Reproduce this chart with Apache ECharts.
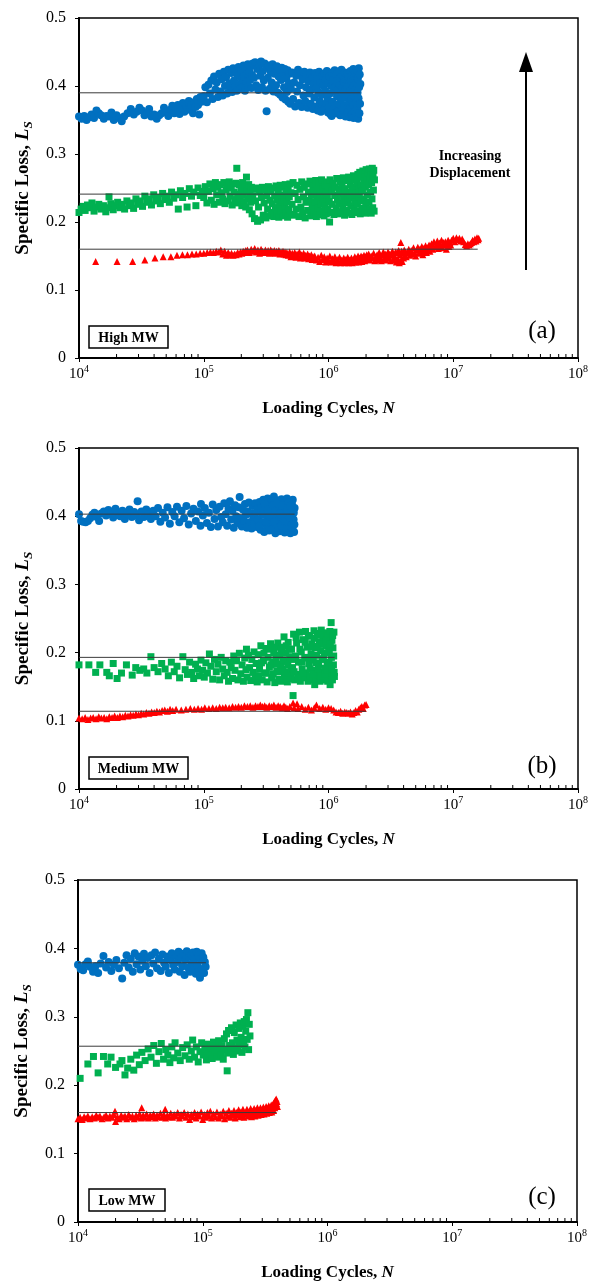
<!DOCTYPE html>
<html><head><meta charset="utf-8">
<script src="https://cdn.jsdelivr.net/npm/echarts@6/dist/echarts.min.js"></script>
<style>html,body{margin:0;padding:0;background:#fff}#c{width:592px;height:1282px}</style>
</head><body><div id="c"></div>
<script>
// ---------- data (N = loading cycles, L = specific loss) ----------
const aBlue = [
[10e3,.355],[10.5e3,.352],[11e3,.356],[11.5e3,.350],[12e3,.354],[12.6e3,.358],[13.2e3,.353],[13.8e3,.364],[14.4e3,.360],[15e3,.357],[15.8e3,.352],[16.6e3,.356],[17.4e3,.355],[18.2e3,.361],[19e3,.350],[20e3,.357],[21e3,.353],[22e3,.348],[23e3,.355],[24.5e3,.360],[26e3,.366],[27.5e3,.358],[29e3,.362],[30.5e3,.368],[32e3,.364],[33.5e3,.357],[35e3,.360],[36.5e3,.366],[38e3,.355],[40e3,.358],[42e3,.352],[44e3,.357],[46e3,.360],[48e3,.368],[50e3,.362],[52e3,.356],[54e3,.365],[56e3,.371],[58e3,.360],[60e3,.366],[62e3,.372],[64e3,.359],[66e3,.369],[68e3,.375],[70e3,.362],[72e3,.371],[74e3,.365],[76e3,.378],[78e3,.367],[80e3,.372],[82e3,.360],[84e3,.376],[86e3,.369],[88e3,.381],[90e3,.372],[92e3,.358],[94e3,.384],[96e3,.377],
[100e3,.385],[103e3,.398],[106e3,.376],[109e3,.402],[112e3,.389],[115e3,.408],[118e3,.381],[121e3,.414],[124e3,.395],[127e3,.405],[130e3,.384],[133e3,.418],[136e3,.392],[139e3,.410],[142e3,.386],[145e3,.421],[148e3,.400],[151e3,.413],[154e3,.389],[157e3,.424],[160e3,.404],[163e3,.395],[166e3,.419],[169e3,.391],[172e3,.426],[175e3,.408],[178e3,.399],[181e3,.421],[184e3,.393],[187e3,.415],[190e3,.428],[193e3,.402],[196e3,.396],[199e3,.423],[202e3,.410],[205e3,.398],[208e3,.430],[211e3,.414],[214e3,.393],[217e3,.425],[220e3,.405],[223e3,.418],[226e3,.432],[229e3,.399],[232e3,.421],[235e3,.409],[238e3,.429],[241e3,.397],[244e3,.416],[247e3,.433],
[253e3,.412],[258e3,.435],[263e3,.401],[268e3,.425],[273e3,.394],[278e3,.431],[283e3,.415],[288e3,.436],[293e3,.398],[298e3,.422],[303e3,.408],[308e3,.433],[313e3,.393],[319e3,.363],[320e3,.427],[326e3,.412],[332e3,.430],[338e3,.396],[344e3,.421],[350e3,.405],[356e3,.432],[362e3,.392],[368e3,.418],[374e3,.426],[380e3,.401],[386e3,.429],[392e3,.390],[398e3,.414],[404e3,.424],[410e3,.387],[416e3,.409],[422e3,.427],[428e3,.383],[434e3,.419],[440e3,.398],[446e3,.425],[452e3,.380],[458e3,.411],[464e3,.391],[470e3,.423],[476e3,.377],[482e3,.404],[488e3,.418],[494e3,.374],[500e3,.396],
[510e3,.420],[520e3,.381],[530e3,.405],[540e3,.370],[550e3,.415],[560e3,.392],[570e3,.424],[580e3,.375],[590e3,.401],[600e3,.418],[610e3,.369],[620e3,.410],[630e3,.386],[640e3,.421],[650e3,.378],[660e3,.398],[670e3,.416],[680e3,.368],[690e3,.407],[700e3,.389],[710e3,.420],[720e3,.374],[730e3,.395],[740e3,.412],[750e3,.366],[760e3,.403],[770e3,.383],[780e3,.419],[790e3,.370],[800e3,.397],[810e3,.411],[820e3,.364],[830e3,.391],[840e3,.421],[850e3,.378],[860e3,.405],[870e3,.362],[880e3,.387],[890e3,.415],[900e3,.372],[910e3,.400],[920e3,.418],[930e3,.366],[940e3,.393],[950e3,.409],[960e3,.375],[970e3,.422],[980e3,.383],[990e3,.361],[1000e3,.404],
[1010e3,.369],[1020e3,.414],[1030e3,.389],[1040e3,.358],[1050e3,.400],[1060e3,.356],[1070e3,.420],[1080e3,.377],[1090e3,.408],[1100e3,.365],[1110e3,.393],[1120e3,.423],[1130e3,.371],[1140e3,.399],[1150e3,.360],[1160e3,.416],[1170e3,.385],[1180e3,.407],[1190e3,.363],[1200e3,.395],[1210e3,.421],[1220e3,.374],[1230e3,.402],[1240e3,.357],[1250e3,.412],[1260e3,.381],[1270e3,.424],[1280e3,.368],[1290e3,.397],[1300e3,.415],[1310e3,.359],[1320e3,.389],[1330e3,.406],[1340e3,.372],[1350e3,.420],[1360e3,.394],[1370e3,.355],[1380e3,.410],[1390e3,.383],[1400e3,.366],[1410e3,.418],[1420e3,.399],[1430e3,.361],[1440e3,.387],[1450e3,.413],[1460e3,.375],[1470e3,.404],[1480e3,.354],[1490e3,.392],[1500e3,.422],[1510e3,.369],[1520e3,.408],[1530e3,.380],[1540e3,.358],[1550e3,.416],[1560e3,.396],[1570e3,.372],[1580e3,.425],[1590e3,.353],[1600e3,.401],[1610e3,.385],[1620e3,.414],[1630e3,.363],[1640e3,.394],[1650e3,.419],[1660e3,.376],[1670e3,.355],[1680e3,.405],[1690e3,.423],[1700e3,.367],[1710e3,.390],[1720e3,.411],[1730e3,.352],[1740e3,.382],[1750e3,.426],[1760e3,.398],[1770e3,.360],[1780e3,.417],[1790e3,.374],[1800e3,.403]
];
const aGreen = [
[10e3,.214],[10.4e3,.219],[10.8e3,.223],[11.2e3,.217],[11.7e3,.225],[12.2e3,.221],[12.7e3,.228],[13.2e3,.216],[13.8e3,.222],[14.4e3,.226],[15e3,.219],[15.7e3,.224],[16.4e3,.215],[17.1e3,.221],[17.4e3,.237],[18e3,.227],[18.8e3,.218],[19.6e3,.224],[20.4e3,.229],[21.3e3,.221],[22.2e3,.226],[23.2e3,.219],[24.2e3,.231],[25.2e3,.224],[26.3e3,.228],[27.4e3,.220],[28.6e3,.234],[29.8e3,.226],[31e3,.231],[32.3e3,.223],[33.7e3,.238],[35.1e3,.229],[36.6e3,.234],[38.1e3,.225],[39.7e3,.240],[41.4e3,.231],[43.1e3,.236],[44.9e3,.227],[46.8e3,.242],[48.8e3,.233],[50.8e3,.238],[53e3,.229],[55.2e3,.244],[57.5e3,.235],[60e3,.240],[62.5e3,.219],[65e3,.246],[67.7e3,.236],[70.5e3,.242],[73.5e3,.222],[76.6e3,.249],[79.8e3,.238],[83e3,.244],[86.5e3,.224],[90e3,.250],[93.8e3,.239],[97.7e3,.245],
[100e3,.236],[103e3,.252],[106e3,.228],[109e3,.245],[112e3,.256],[115e3,.232],[118e3,.249],[121e3,.226],[124e3,.258],[127e3,.240],[130e3,.251],[133e3,.229],[136e3,.255],[139e3,.243],[142e3,.234],[145e3,.258],[148e3,.227],[151e3,.247],[154e3,.253],[157e3,.231],[160e3,.259],[163e3,.238],[166e3,.250],[169e3,.225],[172e3,.256],[175e3,.244],[178e3,.233],[181e3,.257],[184e3,.279],[187e3,.241],[190e3,.228],[193e3,.255],[196e3,.236],[199e3,.249],[202e3,.224],[205e3,.258],[208e3,.240],[211e3,.230],[214e3,.252],[217e3,.222],[220e3,.266],[223e3,.246],[226e3,.234],[229e3,.255],[232e3,.218],[235e3,.243],[238e3,.229],[241e3,.251],[244e3,.212],[247e3,.238],
[250e3,.248],[255e3,.205],[260e3,.231],[265e3,.250],[270e3,.201],[275e3,.222],[280e3,.244],[285e3,.203],[290e3,.236],[295e3,.251],[300e3,.210],[305e3,.228],[310e3,.247],[315e3,.206],[320e3,.239],[325e3,.219],[330e3,.252],[335e3,.209],[340e3,.232],[345e3,.245],[350e3,.214],[355e3,.227],[360e3,.250],[365e3,.208],[370e3,.238],[375e3,.221],[380e3,.253],[385e3,.211],[390e3,.233],[395e3,.246],[400e3,.207],[405e3,.225],[410e3,.254],[415e3,.216],[420e3,.240],[425e3,.229],[430e3,.251],[435e3,.209],[440e3,.236],[445e3,.222],[450e3,.255],[455e3,.213],[460e3,.244],[465e3,.230],[470e3,.207],[475e3,.249],[480e3,.219],[485e3,.237],[490e3,.256],[495e3,.211],[500e3,.243],
[510e3,.226],[520e3,.258],[530e3,.210],[540e3,.242],[550e3,.219],[560e3,.254],[570e3,.233],[580e3,.208],[590e3,.248],[600e3,.222],[610e3,.259],[620e3,.213],[630e3,.237],[640e3,.251],[650e3,.206],[660e3,.229],[670e3,.256],[680e3,.217],[690e3,.244],[700e3,.232],[710e3,.260],[720e3,.209],[730e3,.240],[740e3,.224],[750e3,.253],[760e3,.214],[770e3,.246],[780e3,.230],[790e3,.261],[800e3,.208],[810e3,.236],[820e3,.250],[830e3,.220],[840e3,.258],[850e3,.211],[860e3,.242],[870e3,.227],[880e3,.262],[890e3,.216],[900e3,.248],[910e3,.233],[920e3,.209],[930e3,.255],[940e3,.224],[950e3,.243],[960e3,.212],[970e3,.259],[980e3,.236],[990e3,.219],[1000e3,.251],[1020e3,.200],
[1015e3,.230],[1030e3,.262],[1045e3,.214],[1060e3,.245],[1075e3,.226],[1090e3,.257],[1105e3,.211],[1120e3,.239],[1135e3,.251],[1150e3,.220],[1165e3,.264],[1180e3,.233],[1195e3,.212],[1210e3,.248],[1225e3,.227],[1240e3,.259],[1255e3,.215],[1270e3,.242],[1285e3,.253],[1300e3,.222],[1315e3,.265],[1330e3,.236],[1345e3,.210],[1360e3,.249],[1375e3,.228],[1390e3,.261],[1405e3,.217],[1420e3,.244],[1435e3,.232],[1450e3,.266],[1465e3,.213],[1480e3,.240],[1495e3,.255],[1510e3,.224],[1525e3,.262],[1540e3,.211],[1555e3,.247],[1570e3,.235],[1585e3,.268],[1600e3,.219],[1615e3,.251],[1630e3,.229],[1645e3,.264],[1660e3,.214],[1675e3,.243],[1690e3,.257],[1705e3,.226],[1720e3,.270],[1735e3,.216],[1750e3,.248],[1765e3,.237],[1780e3,.273],[1795e3,.212],[1810e3,.254],[1825e3,.231],[1840e3,.266],[1855e3,.220],[1870e3,.246],[1885e3,.275],[1900e3,.215],[1915e3,.258],[1930e3,.234],[1945e3,.270],[1960e3,.213],[1975e3,.251],[1990e3,.226],[2005e3,.277],[2020e3,.218],[2035e3,.261],[2050e3,.240],[2065e3,.272],[2080e3,.214],[2095e3,.255],[2110e3,.229],[2125e3,.278],[2140e3,.219],[2155e3,.264],[2170e3,.244],[2185e3,.275],[2200e3,.213],[2215e3,.258],[2230e3,.234],[2245e3,.279],[2260e3,.221],[2275e3,.268],[2290e3,.247],[2305e3,.276],[2320e3,.216],[2335e3,.262]
];
const aRed = [
[13.6e3,.142],[20.2e3,.142],[26.9e3,.142],[33.7e3,.144],[40.6e3,.147],[47.3e3,.149],[54.5e3,.149],[61e3,.151],[67.5e3,.152],[74e3,.152],[80.5e3,.153],[87e3,.153],[93.5e3,.154],[100e3,.154],[106.5e3,.155],[113e3,.156],[119.5e3,.155],[126e3,.157],
[132e3,.156],[137e3,.159],[142e3,.153],[147e3,.157],[152e3,.151],[157e3,.155],[162e3,.152],[167e3,.154],[172e3,.151],[177e3,.153],[182e3,.152],[187e3,.155],[192e3,.153],[197e3,.156],[202e3,.154],[207e3,.157],[212e3,.155],[217e3,.158],
[224e3,.159],[232e3,.155],[240e3,.160],[248e3,.157],[256e3,.161],[264e3,.156],[272e3,.159],[280e3,.154],[288e3,.160],[296e3,.157],[304e3,.155],[312e3,.159],[320e3,.156],[328e3,.158],[336e3,.154],[344e3,.159],[352e3,.157],[360e3,.155],[368e3,.158],[376e3,.154],[384e3,.157],[392e3,.155],[400e3,.158],[408e3,.153],[416e3,.156],[424e3,.154],[432e3,.157],[440e3,.153],[448e3,.156],[456e3,.152],[464e3,.155],
[476e3,.151],[488e3,.156],[500e3,.149],[512e3,.154],[524e3,.150],[536e3,.155],[548e3,.148],[560e3,.153],[572e3,.150],[584e3,.156],[596e3,.147],[608e3,.152],[620e3,.149],[632e3,.154],[644e3,.147],[656e3,.151],[668e3,.148],[680e3,.153],[692e3,.146],[704e3,.150],[716e3,.147],[728e3,.152],[740e3,.145],[752e3,.149],[764e3,.146],
[775e3,.150],[800e3,.144],[825e3,.148],[850e3,.142],[875e3,.151],[900e3,.145],[925e3,.149],[950e3,.141],[975e3,.147],[1000e3,.143],[1025e3,.150],[1050e3,.141],[1075e3,.146],[1100e3,.142],[1125e3,.149],[1150e3,.140],[1175e3,.145],[1200e3,.142],[1225e3,.148],[1250e3,.140],[1275e3,.144],[1300e3,.141],[1325e3,.147],[1350e3,.140],[1375e3,.145],[1400e3,.142],[1425e3,.148],[1450e3,.140],[1475e3,.144],[1500e3,.141],[1525e3,.147],[1550e3,.140],[1575e3,.145],[1600e3,.142],[1625e3,.149],[1650e3,.141],[1675e3,.146],[1700e3,.143],[1725e3,.150],[1750e3,.141],[1775e3,.147],[1800e3,.143],[1825e3,.150],[1850e3,.142],[1875e3,.148],[1900e3,.144],[1925e3,.151],[1950e3,.143],[1975e3,.149],[2000e3,.145],[2025e3,.152],
[2050e3,.146],[2100e3,.153],[2150e3,.144],[2200e3,.150],[2250e3,.147],[2300e3,.154],[2350e3,.143],[2400e3,.149],[2450e3,.152],[2500e3,.145],[2550e3,.155],[2600e3,.148],[2650e3,.143],[2700e3,.151],[2750e3,.156],[2800e3,.146],[2850e3,.153],[2900e3,.144],[2950e3,.150],[3000e3,.156],[3050e3,.147],[3100e3,.153],[3150e3,.143],[3200e3,.151],[3250e3,.157],[3300e3,.145],[3350e3,.152],[3400e3,.148],[3450e3,.156],
[3500e3,.141],[3550e3,.155],[3600e3,.146],[3650e3,.158],[3700e3,.140],[3750e3,.152],[3800e3,.170],[3820e3,.144],[3850e3,.157],[3900e3,.142],[3950e3,.154],[4000e3,.147],[4050e3,.159],[4100e3,.150],[4150e3,.156],[4200e3,.149],
[4300e3,.155],[4400e3,.160],[4500e3,.151],[4600e3,.158],[4700e3,.153],[4800e3,.162],[4900e3,.155],[5000e3,.150],[5100e3,.159],[5200e3,.163],[5300e3,.154],[5400e3,.160],[5500e3,.156],[5600e3,.164],[5700e3,.152],[5800e3,.161],[5900e3,.157],[6000e3,.165],[6100e3,.155],[6200e3,.162],[6300e3,.159],[6400e3,.166],[6500e3,.157],[6600e3,.163],
[6700e3,.168],[6850e3,.160],[7000e3,.171],[7150e3,.163],[7300e3,.166],[7450e3,.172],[7600e3,.161],[7750e3,.169],[7900e3,.165],[8050e3,.173],[8200e3,.162],[8350e3,.170],[8500e3,.166],[8650e3,.171],[8800e3,.160],[8950e3,.168],[9100e3,.173],[9250e3,.164],[9400e3,.170],[9550e3,.166],
[9700e3,.173],[10000e3,.176],[10300e3,.171],[10600e3,.177],[10900e3,.174],[11200e3,.176],[11500e3,.172],[11800e3,.175],[12100e3,.171],[12500e3,.167],[12800e3,.165],[13100e3,.168],[13400e3,.166],[13700e3,.168],[14000e3,.170],[14300e3,.173],[14600e3,.171],[14900e3,.175],[15200e3,.172],[15500e3,.177],[15800e3,.174],[16000e3,.176]
];
const bBlue = [
[10e3,.403],[10.4e3,.393],[10.8e3,.392],[11.3e3,.391],[11.8e3,.393],[12.3e3,.397],[12.8e3,.402],[13.3e3,.405],[13.9e3,.399],[14.5e3,.393],[15.1e3,.404],[15.8e3,.407],[16.5e3,.401],[17.2e3,.409],[18e3,.403],[18.8e3,.398],[19.6e3,.411],[20.5e3,.405],[21.4e3,.400],[22.3e3,.408],[23.3e3,.396],[24.3e3,.404],[25.4e3,.410],[26.5e3,.399],[27.7e3,.406],[29e3,.401],[29.5e3,.422],[30.3e3,.394],[31.7e3,.407],[33.1e3,.399],[34.6e3,.410],[36.1e3,.403],[37.7e3,.396],[39.4e3,.408],[41.1e3,.400],[43e3,.412],[44.9e3,.392],[46.9e3,.405],[49e3,.398],[51.2e3,.413],[53.5e3,.389],[55.9e3,.406],[58.4e3,.400],[61e3,.414],[63.7e3,.391],[66.5e3,.408],[69.5e3,.397],[72.6e3,.415],[75.8e3,.388],[79.2e3,.404],[82.7e3,.411],[86.4e3,.393],[90.2e3,.407],[94.2e3,.386],[95e3,.418],[98.4e3,.401],
[102e3,.412],[106e3,.390],[110e3,.405],[114e3,.384],[118e3,.417],[122e3,.396],[126e3,.409],[130e3,.385],[134e3,.414],[138e3,.399],[142e3,.391],[146e3,.419],[150e3,.403],[154e3,.386],[158e3,.411],[162e3,.422],[166e3,.395],[170e3,.408],[174e3,.383],[178e3,.416],[182e3,.400],[186e3,.390],[190e3,.413],[194e3,.428],[198e3,.397],[202e3,.385],[206e3,.410],[210e3,.393],[214e3,.418],[218e3,.402],[222e3,.383],[226e3,.407],[230e3,.420],[234e3,.391],[238e3,.404],[242e3,.382],[246e3,.415],[250e3,.398],[254e3,.388],[258e3,.419],[262e3,.405],[266e3,.384],[270e3,.411],
[275e3,.395],[280e3,.421],[285e3,.380],[290e3,.408],[295e3,.391],[300e3,.424],[305e3,.377],[310e3,.402],[315e3,.415],[320e3,.386],[325e3,.426],[330e3,.398],[335e3,.379],[340e3,.411],[345e3,.420],[350e3,.389],[355e3,.405],[360e3,.382],[365e3,.429],[370e3,.396],[375e3,.375],[380e3,.417],[385e3,.401],[390e3,.384],[395e3,.423],[400e3,.393],[405e3,.378],[410e3,.412],[415e3,.399],[420e3,.425],[425e3,.381],[430e3,.407],[435e3,.390],[440e3,.419],[445e3,.376],[450e3,.403],[455e3,.414],[460e3,.386],[465e3,.426],[470e3,.397],[475e3,.379],[480e3,.410],[485e3,.388],[490e3,.421],[495e3,.375],[500e3,.404],[505e3,.392],[510e3,.417],[515e3,.380],[520e3,.408],[525e3,.395],[530e3,.377],[535e3,.412],
[277e3,.385],[287e3,.412],[297e3,.402],[307e3,.418],[317e3,.392],[327e3,.410],[337e3,.400],[347e3,.380],[357e3,.416],[367e3,.392],[377e3,.408],[387e3,.419],[397e3,.383],[407e3,.404],[417e3,.386],[427e3,.416],[437e3,.400],[447e3,.393],[457e3,.381],[467e3,.409],[477e3,.420],[487e3,.398],[497e3,.415],[507e3,.383],[517e3,.424],[527e3,.405],[533e3,.388]
];
const bGreen = [
[10e3,.182],[12e3,.182],[13.6e3,.171],[14.7e3,.182],[16.7e3,.171],[17.5e3,.166],[18.8e3,.184],[20.2e3,.162],[21.9e3,.170],[24e3,.182],[26.7e3,.167],[28.5e3,.178],[30.7e3,.174],[33e3,.176],[35e3,.170],[37.7e3,.194],[40e3,.178],[43e3,.172],[46e3,.184],
[49e3,.176],[52e3,.166],[55e3,.186],[58e3,.172],[61e3,.180],[64e3,.163],[68e3,.194],[71e3,.175],[74e3,.168],[77e3,.186],[80e3,.171],[83e3,.162],[86e3,.183],[89e3,.176],[92e3,.166],[95e3,.189],[98e3,.174],[101e3,.164],[104e3,.185],[107e3,.170],
[111e3,.198],[114e3,.180],[118e3,.161],[122e3,.190],[126e3,.172],[130e3,.183],[134e3,.160],[138e3,.193],[142e3,.176],[146e3,.166],[150e3,.188],[154e3,.171],[158e3,.158],[162e3,.186],[166e3,.178],[170e3,.162],[174e3,.195],
[178e3,.174],[183e3,.188],[188e3,.160],[193e3,.199],[198e3,.169],[203e3,.182],[208e3,.158],[213e3,.192],[218e3,.175],[220e3,.205],[223e3,.164],[228e3,.196],[233e3,.178],[238e3,.159],[243e3,.190],[248e3,.171],[253e3,.201],[258e3,.166],[263e3,.184],[268e3,.157],
[273e3,.197],[280e3,.176],[287e3,.210],[294e3,.160],[301e3,.188],[308e3,.170],[315e3,.206],[322e3,.157],[329e3,.193],[336e3,.179],[343e3,.213],[350e3,.163],[357e3,.186],[364e3,.200],[371e3,.156],[378e3,.191],[385e3,.173],[392e3,.214],[399e3,.161],[406e3,.196],[413e3,.182],[420e3,.158],[427e3,.208],[434e3,.176],[440e3,.223],[447e3,.165],[454e3,.199],[461e3,.187],[468e3,.157],[475e3,.215],[482e3,.171],[489e3,.194],[496e3,.162],
[276e3,.166],[290e3,.185],[304e3,.199],[318e3,.170],[332e3,.205],[346e3,.182],[360e3,.169],[374e3,.208],[388e3,.183],[402e3,.172],[416e3,.205],[430e3,.189],[444e3,.170],[458e3,.210],[472e3,.182],[486e3,.205],[498e3,.176],
[505e3,.205],[515e3,.178],[520e3,.137],[525e3,.227],[535e3,.160],[545e3,.195],[555e3,.214],[565e3,.168],[575e3,.186],[585e3,.230],[595e3,.158],[605e3,.201],[615e3,.176],[625e3,.219],[635e3,.163],[645e3,.192],[655e3,.231],[665e3,.170],[675e3,.208],[685e3,.158],[695e3,.184],[705e3,.225],[715e3,.165],[725e3,.198],[735e3,.213],[745e3,.160],[755e3,.189],[765e3,.232],[775e3,.153],[776e3,.174],[785e3,.207],[795e3,.162],[805e3,.196],[815e3,.228],[825e3,.167],[835e3,.183],[845e3,.216],[855e3,.158],[865e3,.203],[875e3,.233],[885e3,.171],[895e3,.190],[905e3,.222],[915e3,.160],[925e3,.199],[935e3,.177],[945e3,.229],[955e3,.164],[965e3,.210],[975e3,.186],[985e3,.158],[995e3,.224],[1005e3,.172],[1015e3,.201],[1025e3,.231],[1030e3,.153],[1040e3,.167],[1050e3,.244],[1055e3,.193],[1065e3,.218],[1075e3,.160],[1085e3,.207],[1095e3,.182],[1105e3,.230],[1115e3,.165],
[510e3,.190],[530e3,.172],[550e3,.222],[570e3,.163],[590e3,.205],[610e3,.186],[630e3,.170],[650e3,.215],[670e3,.193],[690e3,.224],[710e3,.176],[730e3,.208],[750e3,.168],[770e3,.221],[790e3,.185],[810e3,.209],[830e3,.176],[850e3,.226],[870e3,.165],[890e3,.213],[910e3,.191],[930e3,.168],[950e3,.217],[970e3,.174],[990e3,.200],[1010e3,.184],[1035e3,.213],[1060e3,.176],[1080e3,.225],[1100e3,.195],[1110e3,.171]
];
const bRed = [
[10e3,.104],[10.6e3,.103],[11.2e3,.105],[11.8e3,.102],[12.4e3,.104],[13e3,.105],[13.7e3,.103],[14.4e3,.106],[15.1e3,.104],[15.9e3,.105],[16.7e3,.103],[17.5e3,.106],[18.4e3,.105],[19.3e3,.107],[20.3e3,.105],[21.3e3,.107],[22.4e3,.106],[23.5e3,.108],[24.7e3,.107],[25.9e3,.109],[27.2e3,.108],[28.6e3,.110],[30e3,.109],[31.5e3,.111],[33e3,.110],[34.7e3,.112],[36.4e3,.111],[38.2e3,.113],[40.1e3,.112],[42.1e3,.114],[44.2e3,.113],[46.4e3,.115],[48.7e3,.116],[51.1e3,.114],[53.7e3,.117],[56.4e3,.115],
[60e3,.117],[66e3,.116],[72e3,.117],[78e3,.118],[84e3,.117],[90e3,.118],[96e3,.117],[102e3,.119],[110e3,.118],[118e3,.119],[126e3,.118],[134e3,.120],[142e3,.119],[150e3,.120],[160e3,.119],[170e3,.121],[180e3,.120],[190e3,.121],[200e3,.120],[212e3,.122],[224e3,.121],[236e3,.122],[248e3,.120],[260e3,.122],[272e3,.121],[284e3,.123],[296e3,.121],[308e3,.122],[320e3,.120],[335e3,.122],[350e3,.121],[365e3,.123],[380e3,.120],[395e3,.122],[410e3,.121],[425e3,.119],[440e3,.122],[455e3,.120],[470e3,.118],
[520e3,.126],[560e3,.125],
[490e3,.121],[530e3,.119],[570e3,.118],[610e3,.121],[650e3,.117],[690e3,.120],[730e3,.116],[770e3,.119],[800e3,.123],[850e3,.118],[900e3,.120],[950e3,.117],[1000e3,.119],[1050e3,.118],[1100e3,.116],
[1150e3,.113],[1200e3,.112],[1250e3,.114],[1300e3,.111],[1350e3,.113],[1400e3,.112],[1450e3,.111],[1500e3,.113],[1550e3,.110],
[1600e3,.112],[1650e3,.115],[1700e3,.113],[1750e3,.117],[1800e3,.119],[1850e3,.121],[1900e3,.118],[1950e3,.123],[2000e3,.124]
];
const cBlue = [
[10e3,.376],[10.5e3,.370],[11e3,.368],[11.5e3,.377],[12e3,.381],[12.5e3,.373],[13.2e3,.366],[13.8e3,.374],[14.5e3,.364],[15.2e3,.378],[16e3,.389],[16.8e3,.372],[17.6e3,.380],[18.5e3,.367],[19.4e3,.376],[20.3e3,.383],[21.3e3,.371],[22.6e3,.356],[23.5e3,.379],[24.5e3,.390],[25.5e3,.372],[26.5e3,.385],[27.5e3,.366],[28.5e3,.393],[29.5e3,.377],[30.5e3,.388],[31.6e3,.369],[32.7e3,.382],[33.8e3,.392],[35e3,.374],[36.2e3,.386],[37.5e3,.364],[38.8e3,.390],[40.1e3,.378],[41.5e3,.394],[43e3,.371],[44.5e3,.385],[46e3,.367],[47.5e3,.391],[49e3,.379],[50.5e3,.373],[52e3,.388],[53.5e3,.364],[55e3,.383],[56.5e3,.393],[58e3,.376],[59.5e3,.369],[61e3,.389],[62.5e3,.380],[64e3,.395],[65.5e3,.366],[67e3,.386],[68.5e3,.374],[70e3,.392],[71.5e3,.361],[73e3,.383],[74.5e3,.396],[76e3,.372],[77.5e3,.388],[79e3,.366],[80.5e3,.391],[82e3,.378],[83.5e3,.394],[85e3,.369],[86.5e3,.385],[88e3,.363],[89.5e3,.395],[91e3,.375],[92.5e3,.389],[94e3,.367],[95e3,.357],[96.5e3,.384],[98e3,.393],[99.5e3,.370],[101e3,.387],[102.5e3,.364],[104e3,.380],[105.5e3,.373]
];
const cGreen = [
[10.4e3,.210],[12e3,.231],[13.3e3,.242],[14.5e3,.218],[16e3,.242],[17.3e3,.231],[18.4e3,.241],[20e3,.226],[21.7e3,.231],[22.5e3,.236],[23.8e3,.215],[25e3,.225],[26.5e3,.238],[28e3,.222],[29.5e3,.244],[31e3,.230],
[32.5e3,.248],[34.5e3,.236],[36.5e3,.253],[38.5e3,.241],[40.5e3,.258],[42.5e3,.232],[44.5e3,.249],[46.5e3,.261],[48.5e3,.238],[50.5e3,.252],[52.5e3,.244],[54.5e3,.233],[56.5e3,.256],[58.5e3,.240],[60e3,.262],
[63e3,.247],[66e3,.236],[69e3,.255],[72e3,.243],[75e3,.259],[78e3,.238],[81e3,.250],[83e3,.266],[86e3,.241],[89e3,.256],[92e3,.234],[95e3,.249],[98e3,.262],[101e3,.244],[104e3,.253],[107e3,.237],[110e3,.260],[113e3,.246],[116e3,.255],[119e3,.239],[122e3,.263],[125e3,.248],[128e3,.257],[131e3,.241],[134e3,.265],[137e3,.250],[140e3,.244],[143e3,.258],
[146e3,.238],[149e3,.268],[152e3,.252],[155e3,.275],[157e3,.221],[158e3,.247],[161e3,.280],[164e3,.258],[167e3,.249],[170e3,.284],[173e3,.262],[176e3,.245],[179e3,.277],[182e3,.254],[185e3,.288],[188e3,.266],[191e3,.250],[194e3,.283],[197e3,.259],[200e3,.291],[203e3,.270],[206e3,.248],[209e3,.286],[212e3,.263],[215e3,.293],[218e3,.256],[221e3,.279],[224e3,.296],[227e3,.267],[230e3,.306],[233e3,.252],[236e3,.289],[239e3,.272]
];
const cRed = [
[10e3,.151],[10.4e3,.153],[10.8e3,.150],[11.2e3,.154],[11.6e3,.152],[12e3,.155],[12.5e3,.151],[13e3,.154],[13.5e3,.152],[14e3,.156],[14.5e3,.153],[15e3,.155],[15.6e3,.151],[16.2e3,.154],[16.8e3,.156],[17.4e3,.152],[18e3,.155],[18.7e3,.153],[19.4e3,.157],[19.8e3,.162],[20e3,.147],[20.7e3,.154],[21.4e3,.151],[22.2e3,.156],[23e3,.153],[23.8e3,.155],[24.6e3,.151],[25.5e3,.157],[26.4e3,.153],[27.3e3,.155],[28.2e3,.151],[29.2e3,.156],[30.2e3,.153],[31.2e3,.158],[32.2e3,.152],[32.4e3,.167],[33.3e3,.156],[34.4e3,.153],[35.5e3,.158],[36.7e3,.152],[37.9e3,.156],[39.1e3,.154],[40.4e3,.158],[41.7e3,.152],[43e3,.156],[44.4e3,.154],[45.8e3,.159],[47.3e3,.153],[48.8e3,.157],[50e3,.165],[50.4e3,.152],[52e3,.156],[53.7e3,.154],[55.4e3,.159],[57.2e3,.153],[59e3,.157],[61e3,.155],[63e3,.160],[65e3,.152],[67e3,.157],[69e3,.155],[71e3,.160],[73.5e3,.153],[76e3,.158],[78.5e3,.150],[81e3,.157],[83.5e3,.154],[86e3,.160],[88.5e3,.152],[91e3,.158],[94e3,.155],[97e3,.161],
[100e3,.150],[103e3,.157],[106e3,.153],[109e3,.160],[112e3,.155],[115e3,.162],[118e3,.152],[122e3,.158],[126e3,.154],[130e3,.161],[134e3,.152],[138e3,.158],[142e3,.155],[146e3,.162],[150e3,.151],[154e3,.159],[158e3,.155],[162e3,.163],[166e3,.153],[170e3,.159],[174e3,.156],[178e3,.163],[182e3,.152],[186e3,.160],[190e3,.157],[194e3,.164],[198e3,.154],[202e3,.161],[206e3,.156],[210e3,.165],[214e3,.153],[218e3,.160],[222e3,.158],[226e3,.165],[230e3,.155],[234e3,.161],[238e3,.157],[242e3,.166],[246e3,.154],[250e3,.162],[254e3,.158],[258e3,.166],[262e3,.155],[266e3,.163],[270e3,.159],[274e3,.167],[278e3,.156],[282e3,.163],[286e3,.160],[290e3,.167],[294e3,.157],[298e3,.164],[302e3,.161],[306e3,.168],[310e3,.158],[314e3,.165],[318e3,.162],[322e3,.169],[326e3,.159],[330e3,.166],[334e3,.163],[338e3,.170],[342e3,.160],[346e3,.167],[350e3,.164],[354e3,.171],[358e3,.161],[362e3,.168],[366e3,.172],[370e3,.163],[374e3,.175],[378e3,.167],[382e3,.178],[385e3,.170],[388e3,.180],[391e3,.173],[394e3,.176],[397e3,.169]
];
// mean lines: [mean L, last N] for blue, green, red in each panel
const aMeans = [0.390, 0.241, 0.160];
const aMeanEnds = [1.8e6, 2.33e6, 1.57e7];
const bMeans = [0.403, 0.193, 0.114];
const bMeanEnds = [5.35e5, 1.12e6, 2.0e6];
const cMeans = [0.379, 0.257, 0.160];
const cMeanEnds = [1.06e5, 2.3e5, 3.9e5];
const meanStart = 1e4;
const yTicks = [0, 0.1, 0.2, 0.3, 0.4, 0.5];
const xDecades = [4, 5, 6, 7, 8];
const panelTags = ['(a)', '(b)', '(c)'];
const mwLabels = ['High MW', 'Medium MW', 'Low MW'];
const xTitle = 'Loading Cycles, ';
const yTitle = 'Specific Loss, ';
const arrowText = 'Increasing\nDisplacement';

// ---------- chart ----------
const FONT = 'Liberation Serif';
const COLORS = ['#0070C0', '#00B050', '#FF0000'];
const grids = [
  {left: 79, top: 18, width: 499, height: 340},
  {left: 79, top: 448, width: 499, height: 341},
  {left: 78, top: 880, width: 499, height: 342}
];
const panels = [
  {sets: [aBlue, aGreen, aRed], means: aMeans, ends: aMeanEnds},
  {sets: [bBlue, bGreen, bRed], means: bMeans, ends: bMeanEnds},
  {sets: [cBlue, cGreen, cRed], means: cMeans, ends: cMeanEnds}
];
const minorTicks = [];
for (let d = 4; d < 8; d++) for (let k = 2; k <= 9; k++) minorTicks.push([k * Math.pow(10, d), 0]);

const xAxes = [], yAxes = [], series = [];
grids.forEach((g, i) => {
  g.show = true; g.borderColor = '#000'; g.borderWidth = 1.5; g.backgroundColor = 'transparent';
  xAxes.push({
    type: 'log', gridIndex: i, min: 1e4, max: 1e8, logBase: 10,
    axisLine: {lineStyle: {color: '#000', width: 2}},
    axisTick: {show: true, length: 4, inside: false, lineStyle: {color: '#000', width: 1}},
    splitLine: {show: false},
    axisLabel: {
      margin: 6, color: '#000',
      formatter: v => '{b|10}{s|' + Math.round(Math.log10(v)) + '}',
      rich: {
        b: {fontFamily: FONT, fontSize: 15, color: '#000', lineHeight: 18, verticalAlign: 'bottom'},
        s: {fontFamily: FONT, fontSize: 10, color: '#000', lineHeight: 12, verticalAlign: 'top'}
      }
    },
    name: '{t|' + xTitle + '}{i|N}', nameLocation: 'middle', nameGap: 42,
    nameTextStyle: {rich: {
      t: {fontFamily: FONT, fontSize: 17, fontWeight: 'bold', color: '#000'},
      i: {fontFamily: FONT, fontSize: 17, fontWeight: 'bold', fontStyle: 'italic', color: '#000'}
    }}
  });
  yAxes.push({
    type: 'value', gridIndex: i, min: 0, max: 0.5, interval: 0.1,
    axisLine: {show: true, lineStyle: {color: '#000', width: 2}},
    axisTick: {show: true, length: 4, lineStyle: {color: '#000', width: 1}},
    splitLine: {show: false},
    axisLabel: {margin: 13, color: '#000', fontFamily: FONT, fontSize: 16,
      formatter: v => v === 0 ? '0' : v.toFixed(1)},
    name: '{t|' + yTitle + '}{i|L}{s|S}', nameLocation: 'middle', nameGap: 44,
    nameTextStyle: {rich: {
      t: {fontFamily: FONT, fontSize: 19, fontWeight: 'bold', color: '#000', lineHeight: 23},
      i: {fontFamily: FONT, fontSize: 19, fontWeight: 'bold', fontStyle: 'italic', color: '#000', lineHeight: 23},
      s: {fontFamily: FONT, fontSize: 13, fontWeight: 'bold', fontStyle: 'italic', color: '#000', lineHeight: 13, verticalAlign: 'bottom'}
    }}
  });
  const p = panels[i];
  const symbols = ['circle', 'rect', 'triangle'];
  const sizes = [8, 7, 7];
  p.sets.forEach((data, j) => {
    series.push({type: 'scatter', xAxisIndex: i, yAxisIndex: i, data: data,
      symbol: symbols[j], symbolSize: sizes[j], itemStyle: {color: COLORS[j], opacity: 1},
      z: 2 + (2 - j), silent: true});
  });
  p.means.forEach((m, j) => {
    series.push({type: 'line', xAxisIndex: i, yAxisIndex: i, data: [[meanStart, m], [p.ends[j], m]],
      showSymbol: false, symbol: 'none', lineStyle: {color: '#3a3a3a', width: 1}, z: 6, silent: true});
  });
  series.push({type: 'custom', xAxisIndex: i, yAxisIndex: i, data: minorTicks, z: 7, silent: true,
    renderItem: (params, api) => {
      const pt = api.coord([api.value(0), 0]);
      return {type: 'line', shape: {x1: pt[0], y1: pt[1], x2: pt[0], y2: pt[1] - 4},
        style: {stroke: '#000', lineWidth: 1}};
    }});
});

const graphic = [];
const boxes = [
  {x: 89, y: 326, w: 79, h: 22},
  {x: 89, y: 757, w: 99, h: 22},
  {x: 89, y: 1189, w: 76, h: 22}
];
const tagPos = [[542, 331], [542, 766], [542, 1197]];
boxes.forEach((b, i) => {
  graphic.push({type: 'rect', shape: {x: b.x, y: b.y, width: b.w, height: b.h},
    style: {fill: '#fff', stroke: '#000', lineWidth: 1.5}, z: 10});
  graphic.push({type: 'text', x: b.x + b.w / 2, y: b.y + b.h / 2 + 1, z: 11,
    style: {text: mwLabels[i], font: 'bold 14px "Liberation Serif"', fill: '#000', textAlign: 'center', textVerticalAlign: 'middle'}});
  graphic.push({type: 'text', x: tagPos[i][0], y: tagPos[i][1], z: 11,
    style: {text: panelTags[i], font: '25px "Liberation Serif"', fill: '#000', textAlign: 'center', textVerticalAlign: 'middle'}});
});
graphic.push({type: 'line', shape: {x1: 526, y1: 270, x2: 526, y2: 68}, style: {stroke: '#000', lineWidth: 2}, z: 10});
graphic.push({type: 'polygon', shape: {points: [[519, 72], [533, 72], [526, 52]]}, style: {fill: '#000'}, z: 10});
graphic.push({type: 'text', x: 470, y: 165, z: 11,
  style: {text: arrowText, font: 'bold 14px "Liberation Serif"', lineHeight: 17, fill: '#000', textAlign: 'center', textVerticalAlign: 'middle'}});

const chart = echarts.init(document.getElementById('c'), null, {renderer: 'canvas'});
chart.setOption({
  animation: false, backgroundColor: '#fff',
  grid: grids, xAxis: xAxes, yAxis: yAxes, series: series, graphic: graphic
});
</script></body></html>
